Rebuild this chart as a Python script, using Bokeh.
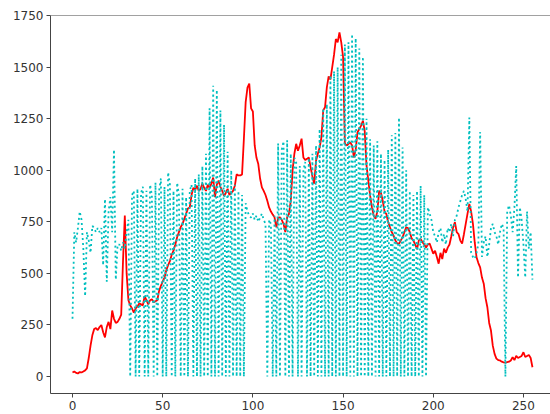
from bokeh.plotting import figure
from bokeh.models import FixedTicker, Span, Range1d
from bokeh.embed import file_html
from bokeh.resources import INLINE

# intensity levels
levels = list(range(256))

# red series (solid)
red_counts = [
    20, 25, 18, 15, 22, 20, 25, 30, 40, 90,
    150, 200, 230, 235, 225, 240, 250, 215, 190, 240,
    265, 230, 320, 280, 260, 265, 280, 300, 560, 780,
    500, 370, 345, 330, 310, 330, 340, 355, 350, 345,
    390, 370, 350, 370, 375, 360, 365, 370, 415, 440,
    460, 480, 515, 540, 560, 590, 610, 640, 675, 700,
    725, 740, 765, 790, 815, 820, 880, 915, 905, 925,
    900, 910, 935, 915, 900, 930, 915, 935, 965, 870,
    930, 950, 920, 900, 875, 890, 910, 880, 890, 900,
    925, 980, 975, 975, 980, 1150, 1330, 1400, 1420, 1300,
    1285, 1120, 1060, 1030, 960, 917, 900, 880, 852, 820,
    800, 785, 772, 723, 770, 772, 760, 740, 700, 772,
    788, 850, 998, 1080, 1128, 1095, 1120, 1153, 1062, 1050,
    1055, 1062, 1014, 970, 935, 1046, 1080, 1110, 1160, 1290,
    1305, 1402, 1455, 1440, 1500, 1560, 1636, 1620, 1668, 1620,
    1550, 1130, 1120, 1128, 1135, 1120, 1062, 1100, 1184, 1200,
    1216, 1240, 1190, 1022, 950, 877, 820, 780, 765, 800,
    900, 890, 852, 800, 788, 748, 723, 700, 683, 660,
    645, 643, 660, 675, 700, 723, 720, 700, 670, 659,
    640, 618, 660, 667, 651, 640, 626, 640, 645, 620,
    595, 610, 580, 547, 600, 570, 620, 600, 625, 640,
    680, 723, 748, 700, 691, 659, 645, 690, 740, 790,
    837, 800, 740, 650, 578, 550, 529, 480, 450, 380,
    336, 260, 223, 150, 110, 87, 80, 78, 72, 69,
    68, 70, 72, 78, 94, 80, 100, 90, 95, 100,
    118, 95, 100, 105, 90, 45,
]

# cyan series (dotted)
cyan_counts = [
    280, 700, 650, 720, 800, 760, 620, 390, 700, 660,
    600, 730, 720, 700, 720, 700, 720, 540, 860, 460,
    800, 870, 700, 1100, 470, 640, 640, 610, 650, 620,
    700, 760, 0, 880, 900, 0, 910, 0, 890, 920,
    0, 900, 0, 930, 880, 0, 940, 0, 900, 960,
    0, 920, 0, 990, 930, 0, 900, 0, 940, 880,
    0, 910, 0, 870, 0, 900, 930, 0, 960, 0,
    980, 0, 1020, 0, 1080, 0, 1300, 0, 1410, 0,
    1390, 0, 1290, 0, 1220, 0, 1090, 0, 1000, 0,
    930, 0, 900, 0, 880, 0, 840, 800, 780, 770,
    790, 760, 780, 750, 770, 790, 760, 740, 0, 760,
    740, 0, 780, 0, 1130, 0, 1100, 1140, 0, 1145,
    0, 1080, 0, 1060, 1040, 0, 1020, 0, 1000, 1040,
    0, 1060, 0, 1080, 0, 1120, 0, 1200, 0, 1300,
    0, 1320, 0, 1460, 0, 1480, 0, 1500, 0, 1560,
    0, 1610, 0, 1620, 0, 1660, 0, 1640, 0, 1590,
    0, 1550, 0, 1250, 0, 1150, 0, 1120, 0, 1140,
    0, 1080, 0, 1050, 0, 1100, 0, 1170, 0, 1180,
    0, 1255, 0, 1110, 0, 1000, 0, 900, 0, 880,
    0, 900, 0, 925, 0, 880, 0, 820, 790, 760,
    700, 680, 650, 700, 720, 650, 690, 640, 720, 700,
    740, 680, 760, 780, 820, 850, 880, 900, 860, 800,
    1255, 600, 580, 570, 600, 640, 1185, 580, 650, 680,
    580, 640, 720, 740, 700, 680, 640, 700, 740, 720,
    0, 800, 830, 780, 700, 820, 1020, 480, 820, 760,
    640, 480, 800, 620, 700, 470,
]

x_ticks = [0, 50, 100, 150, 200, 250]
y_ticks = [0, 250, 500, 750, 1000, 1250, 1500, 1750]

assert len(red_counts) == 256 and len(cyan_counts) == 256

p = figure(width=550, height=414, output_backend="svg", toolbar_location=None,
           x_range=Range1d(-12.2, 265), y_range=Range1d(-82, 1750),
           min_border_left=50, min_border_top=15, min_border_right=0,
           min_border_bottom=21)

p.line(levels, red_counts, line_color="#ff0000", line_width=1.8)
p.line(levels, cyan_counts, line_color="#00bfbf", line_width=1.8,
       line_dash="2 3")

p.xaxis.ticker = FixedTicker(ticks=x_ticks)
p.yaxis.ticker = FixedTicker(ticks=y_ticks)
for ax in (p.xaxis, p.yaxis):
    ax.major_tick_in = 0
    ax.major_tick_out = 4
    ax.minor_tick_line_color = None
    ax.axis_line_color = "#444444"
    ax.major_tick_line_color = "#444444"
    ax.major_label_text_color = "#333333"
    ax.major_label_text_font = "DejaVu Sans"
    ax.major_label_text_font_size = "12px"
    ax.major_label_standoff = 3

p.xgrid.visible = False
p.ygrid.visible = False
p.outline_line_color = None
p.add_layout(Span(location=1750, dimension="width", line_color="#444444",
                  line_width=1))

open("out.html", "w").write(file_html(p, INLINE))
